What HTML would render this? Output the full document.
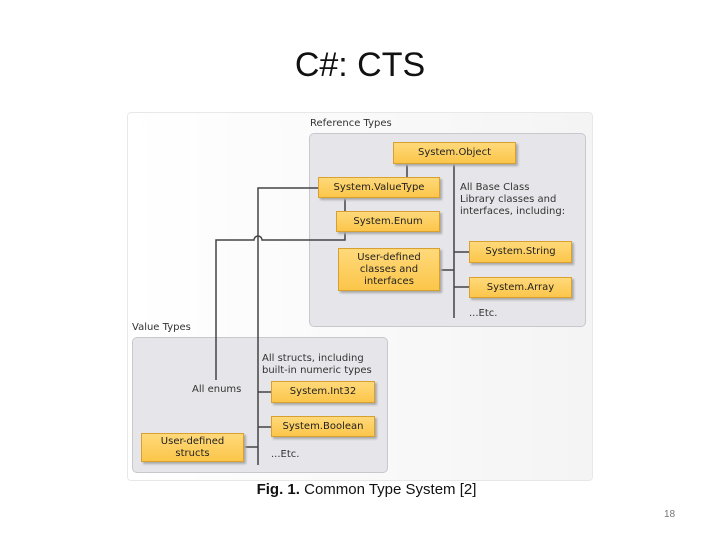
<html><head><style>
body{margin:0;width:720px;height:540px;background:#fff;position:relative;font-family:"Liberation Sans",sans-serif;overflow:hidden}
.a{position:absolute}
.b{position:absolute;background:linear-gradient(#ffd97a,#fbc64a);border:1px solid #d9a030;box-shadow:2px 2px 2px #aaa;font-family:"DejaVu Sans",sans-serif;font-size:10px;color:#222;text-align:center;display:flex;align-items:center;justify-content:center;line-height:12px;box-sizing:border-box}
.t{position:absolute;font-family:"DejaVu Sans",sans-serif;font-size:10px;color:#333;line-height:12px;white-space:nowrap}
</style></head><body>
<div class="a" style="left:0;top:46px;width:720px;text-align:center;font-size:34px;color:#111">C#: CTS</div>
<div class="a" style="left:127px;top:112px;width:464px;height:367px;background:linear-gradient(90deg,#fff,#f4f4f4);border:1px solid #e8e8e8;border-radius:4px"></div>
<div class="t" style="left:310px;top:118px">Reference Types</div>
<div class="a" style="left:309px;top:133px;width:277px;height:194px;background:#e6e6ea;border:1px solid #c8c8cc;border-radius:5px;box-sizing:border-box"></div>
<div class="t" style="left:132px;top:322px">Value Types</div>
<div class="a" style="left:132px;top:337px;width:256px;height:136px;background:#e6e6ea;border:1px solid #c8c8cc;border-radius:5px;box-sizing:border-box"></div>
<svg class="a" style="left:0;top:0" width="720" height="540"><g stroke="#444" stroke-width="1.5" fill="none">
<path d="M407 164V177M454 164V318M454 252H469M454 287H469M440 270H454"/>
<path d="M318 188H258V465M345 198V211M345 232V240H262a4 4 0 0 0-8 0H216V380"/>
<path d="M258 392H271M258 427H271M244 447H258"/></g></svg>
<div class="b" style="left:393px;top:142px;width:123px;height:22px">System.Object</div>
<div class="b" style="left:318px;top:177px;width:122px;height:21px">System.ValueType</div>
<div class="b" style="left:336px;top:211px;width:104px;height:21px">System.Enum</div>
<div class="b" style="left:338px;top:248px;width:102px;height:43px">User-defined<br>classes and<br>interfaces</div>
<div class="b" style="left:469px;top:241px;width:103px;height:22px">System.String</div>
<div class="b" style="left:469px;top:277px;width:103px;height:21px">System.Array</div>
<div class="t" style="left:460px;top:182px">All Base Class<br>Library classes and<br>interfaces, including:</div>
<div class="t" style="left:469px;top:308px">...Etc.</div>
<div class="t" style="left:262px;top:353px">All structs, including<br>built-in numeric types</div>
<div class="t" style="left:192px;top:384px">All enums</div>
<div class="b" style="left:271px;top:381px;width:104px;height:22px">System.Int32</div>
<div class="b" style="left:271px;top:416px;width:104px;height:21px">System.Boolean</div>
<div class="b" style="left:141px;top:433px;width:103px;height:29px">User-defined<br>structs</div>
<div class="t" style="left:271px;top:449px">...Etc.</div>
<div class="a" style="left:0;top:481px;width:733px;text-align:center;font-size:15px;color:#111"><b>Fig. 1.</b> Common Type System [2]</div>
<div class="a" style="left:664px;top:509px;font-size:10px;color:#777">18</div>
</body></html>
